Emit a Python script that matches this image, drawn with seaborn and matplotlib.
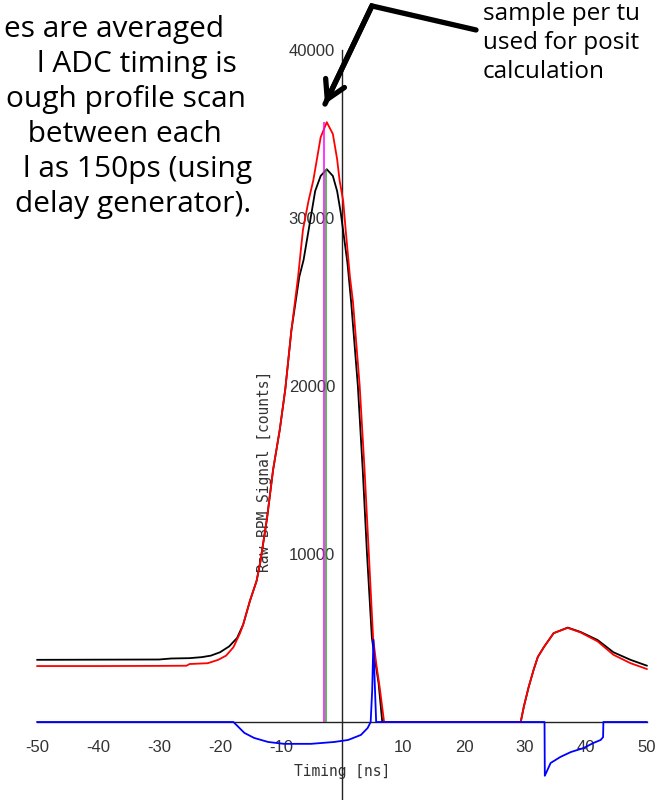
import numpy as np
import pandas as pd
import matplotlib
matplotlib.use("Agg")
import matplotlib.pyplot as plt
import seaborn as sns

# ---------------- data ----------------
black_t = [-50, -40, -30, -28, -25, -23, -21.5, -20, -18.5, -17.2, -16.2, -15.1, -14.0, -13.4,
           -12.3, -11.3, -10.2, -9.3, -8.3, -7.0, -6.3, -5.0, -4.4, -3.5, -2.5, -1.5, -0.8, -0.2,
           0.9, 1.5, 2.6, 3.4, 4.1, 4.9, 5.5, 6.0, 6.6,
           29.3, 29.8, 30.6, 31.4, 32.1, 33.1, 34.7, 37.0, 39.1, 41.9, 44.5, 47.3, 50]
black_v = [3700, 3710, 3720, 3780, 3800, 3860, 3950, 4150, 4500, 5000, 5800, 7200, 8400, 9500,
           12100, 15000, 17400, 19800, 23300, 26500, 27500, 30300, 31600, 32500, 32900, 32500, 31600, 30300,
           27300, 25000, 20000, 15000, 10000, 5000, 3500, 2300, 0,
           0, 900, 2080, 3090, 3870, 4460, 5290, 5620, 5360, 4880, 4150, 3700, 3350]

red_t = [-50, -40, -30, -25.5, -25, -22, -20.3, -19, -17.8, -16.7, -16.2, -15.1, -14.0, -13.4,
         -12.3, -11.3, -10.2, -9.3, -8.3, -7.2, -6.4, -5.5, -4.7, -3.5, -2.5, -1.5, -0.8, -0.4,
         0.2, 0.6, 1.3, 1.8, 2.9, 3.7, 4.4, 5.1, 5.6, 6.2, 6.9,
         29.3, 29.8, 30.6, 31.4, 32.1, 33.1, 34.7, 37.0, 39.1, 41.9, 44.5, 47.3, 50]
red_v = [3330, 3330, 3340, 3350, 3450, 3500, 3700, 3950, 4450, 5300, 5800, 7200, 8400, 9500,
         12100, 15000, 17400, 19800, 23300, 26500, 29300, 31000, 32250, 34800, 35700, 35000, 33500, 32250,
         31000, 29300, 26500, 25000, 20000, 15000, 10000, 5000, 3500, 2000, 0,
         0, 900, 2080, 3090, 3870, 4460, 5290, 5600, 5330, 4800, 4000, 3500, 3150]

blue_t = [-50, -17.8, -16.0, -14.4, -12.1, -9.5, -5.1, -1.3, 1.0, 3.1, 4.2, 4.7, 4.95, 5.15, 5.35, 5.6,
          33.2, 33.25, 34.2, 35.8, 37.5, 39.6, 41.2, 42.4, 42.8, 42.85, 50]
blue_v = [0, 0, -650, -950, -1190, -1300, -1300, -1190, -1070, -770, -360, 0, 1900, 4900, 2500, 0,
          0, -3200, -2440, -2080, -1790, -1550, -1250, -1070, -900, 0, 0]

# peak-sample markers
marker_t = [-2.9, -2.6]
marker_v = [35700, 32900]
marker_colors = ["#ff00ff", "#22aa22"]

x_major = [-50, -40, -30, -20, -10, 0, 10, 20, 30, 40, 50]
x_labels = ["-50", "-40", "-30", "-20", "-10", "", "10", "20", "30", "40", "50"]
x_minor = [-45, -35, -25, -15, -5, 5, 15, 25, 35, 45]
y_major = [0, 10000, 20000, 30000, 40000]
y_labels = ["", "10000", "20000", "30000", "40000"]
y_minor = [5000, 15000, 25000, 35000]

left_text = ["es are averaged", "l ADC timing is", "ough profile scan",
             " between each", "l as 150ps (using", "delay generator)."]
right_text = ["sample per tu", "used for posit", "calculation"]

# ---------------- figure ----------------
sns.set_style("white")
plt.rcParams["font.family"] = ["DejaVu Sans"]

W, H = 666, 800
fig = plt.figure(figsize=(W / 100, H / 100), dpi=100)
ax = fig.add_axes([0, 0, 1, 1])
ax.set_facecolor("white")

PX_PER_NS = 6.1
X0 = 342
Y0 = 722
CNT_PER_PX = 59.52
ax.set_xlim(-X0 / PX_PER_NS, (W - X0) / PX_PER_NS)
ylo = -(H - Y0) * CNT_PER_PX
ax.set_ylim(ylo, Y0 * CNT_PER_PX)

df_b = pd.DataFrame({"t": black_t, "v": black_v})
df_r = pd.DataFrame({"t": red_t, "v": red_v})
df_u = pd.DataFrame({"t": blue_t, "v": blue_v})

sns.lineplot(data=df_b, x="t", y="v", ax=ax, color="black", lw=1.3, estimator=None, zorder=3)
sns.lineplot(data=df_r, x="t", y="v", ax=ax, color="#ff0000", lw=1.3, estimator=None, zorder=4)
ax.vlines(marker_t, 0, marker_v, colors=marker_colors, lw=1.1, zorder=5)
sns.lineplot(data=df_u, x="t", y="v", ax=ax, color="#0000ff", lw=1.3, estimator=None, zorder=6)

# axes through origin
for s in ["top", "right"]:
    ax.spines[s].set_visible(False)
ax.spines["left"].set_position(("data", 0))
ax.spines["bottom"].set_position(("data", 0))
ax.spines["left"].set_bounds(ylo, 40000)
ax.spines["bottom"].set_bounds(-50, 50)
for s in ["left", "bottom"]:
    ax.spines[s].set_color("#222222")
    ax.spines[s].set_linewidth(1.0)
    ax.spines[s].set_zorder(2)

ax.set_xticks(x_major)
ax.set_xticklabels(x_labels)
ax.set_xticks(x_minor, minor=True)
ax.set_yticks(y_major)
ax.set_yticklabels(y_labels)
ax.set_yticks(y_minor, minor=True)
ax.tick_params(axis="both", which="both", direction="inout", length=6, width=1,
               color="#222222", labelcolor="#333333")
ax.tick_params(axis="x", which="major", pad=10, labelsize=12)
ax.tick_params(axis="y", which="major", pad=2, labelsize=12)
for lab in ax.get_xticklabels() + ax.get_yticklabels():
    lab.set_family("Liberation Sans")

ax.set_xlabel("Timing [ns]", family="DejaVu Sans Mono", fontsize=10.5, color="#333333")
ax.set_ylabel("Raw BPM Signal [counts]", family="DejaVu Sans Mono", fontsize=10.5, color="#333333")
ax.xaxis.set_label_coords(X0 / W, 1 - 764 / H)
ax.yaxis.set_label_coords(272 / W, 1 - 471 / H)

# annotation arrow (slide overlay)
arrow_tail = (21.97, 41190)
arrow_corner = (4.9, 42620)
arrow_tip = (-2.79, 36780)
ax.plot([arrow_tail[0], arrow_corner[0], arrow_tip[0]],
        [arrow_tail[1], arrow_corner[1], arrow_tip[1]],
        color="black", lw=3.8, solid_joinstyle="miter", clip_on=False, zorder=10)
ax.annotate("", xy=arrow_tip, xytext=arrow_corner,
            arrowprops=dict(arrowstyle="->,head_length=1.3,head_width=0.75", lw=3.8,
                            color="black", shrinkA=0, shrinkB=0),
            zorder=10, annotation_clip=False)

# slide text overlays
left_right_edges = [224, 237, 246, 222, 252, 251]
for i, (txt, xr) in enumerate(zip(left_text, left_right_edges)):
    fig.text(xr / W, 1 - (37 + 35 * i) / H, txt, ha="right", va="baseline",
             family="Open Sans", fontsize=21.5, color="black")
for i, txt in enumerate(right_text):
    fig.text(483 / W, 1 - (20 + 29 * i) / H, txt, ha="left", va="baseline",
             family="Open Sans", fontsize=17.5, color="black")

fig.savefig("out.png", dpi=100, facecolor="white")
